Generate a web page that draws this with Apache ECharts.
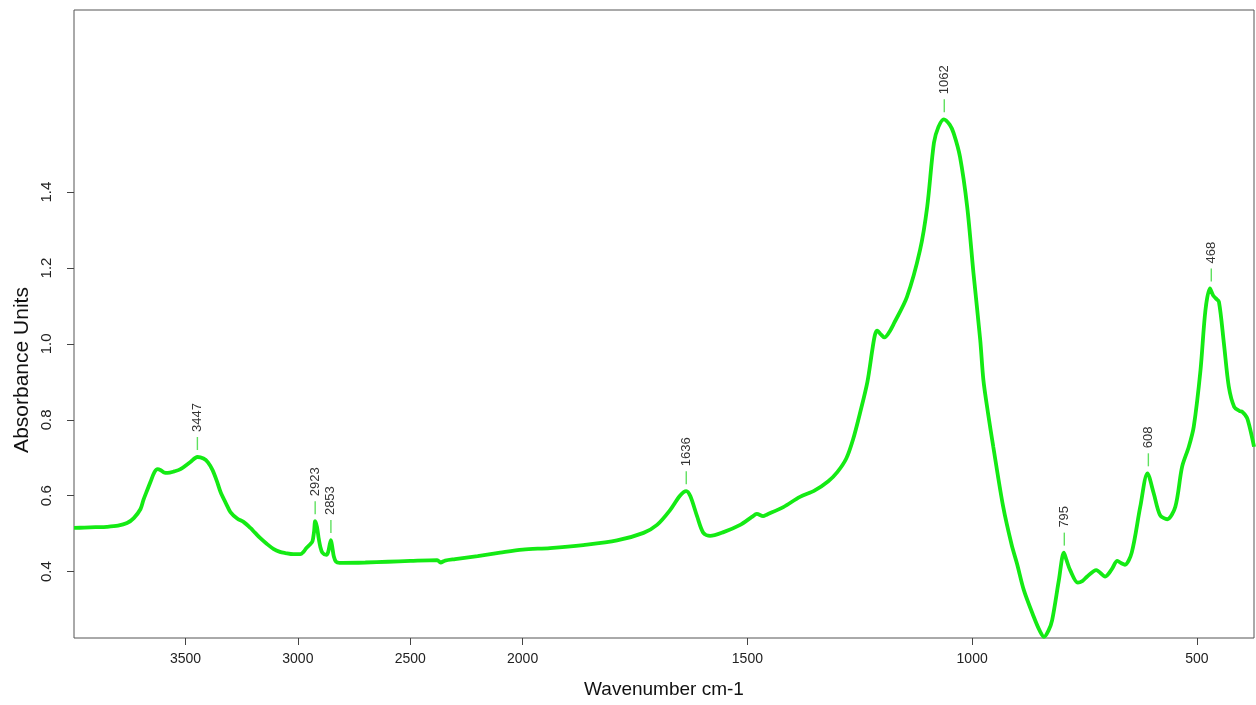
<!DOCTYPE html>
<html>
<head>
<meta charset="utf-8">
<script src="https://cdn.jsdelivr.net/npm/echarts@6/dist/echarts.min.js"></script>
<style>
html,body{margin:0;padding:0;background:#fff;}
#chart{width:1256px;height:705px;}
</style>
</head>
<body>
<div id="chart"></div>
<script>
// Wavenumber (cm-1), descending
const wavenumbers = [3996,3950,3900,3850,3800,3760,3730,3700,3687,3670,3656,3638,3624,3610,3595,3580,3550,3522,3478,3447,3420,3400,3380,3360,3344,3320,3300,3270,3242,3211,3190,3167,3140,3109,3080,3056,3020,2989,2975,2962,2945,2935,2928,2923,2915,2908,2900,2891,2873,2865,2858,2853,2847,2840,2830,2815,2800,2700,2600,2500,2380,2365,2345,2300,2200,2100,2000,1939,1865,1790,1731,1701,1672,1650,1636,1627,1612,1598,1583,1553,1516,1490,1479,1465,1457,1420,1383,1350,1320,1300,1280,1265,1249,1233,1222,1216,1211,1203,1195,1185,1174,1145,1116,1100,1085,1075,1063,1050,1041,1027,1011,997,982,975,965,953,931,912,900,885,863,850,840,830,822,807,796,790,782,765,755,744,724,704,690,677,668,660,645,626,610,596,582,566,548,533,518,507,492,481,471,464,458,451,440,429,417,405,399,388,373];
// Absorbance units
const absorbance = [0.515,0.516,0.517,0.518,0.521,0.528,0.541,0.565,0.589,0.615,0.636,0.662,0.670,0.667,0.661,0.660,0.664,0.670,0.689,0.702,0.698,0.688,0.668,0.638,0.610,0.580,0.557,0.540,0.531,0.515,0.502,0.488,0.474,0.460,0.452,0.449,0.446,0.446,0.452,0.462,0.472,0.480,0.505,0.533,0.518,0.490,0.465,0.450,0.444,0.452,0.472,0.483,0.465,0.440,0.426,0.423,0.423,0.424,0.426,0.428,0.430,0.424,0.429,0.433,0.441,0.450,0.458,0.462,0.470,0.482,0.502,0.523,0.562,0.600,0.612,0.599,0.546,0.502,0.494,0.504,0.523,0.544,0.552,0.546,0.550,0.570,0.597,0.614,0.638,0.662,0.698,0.748,0.820,0.900,0.985,1.025,1.035,1.025,1.017,1.030,1.054,1.124,1.247,1.361,1.530,1.572,1.592,1.578,1.555,1.493,1.361,1.186,1.010,0.905,0.820,0.729,0.571,0.470,0.420,0.351,0.281,0.245,0.228,0.245,0.272,0.378,0.450,0.430,0.404,0.371,0.375,0.387,0.404,0.387,0.405,0.428,0.422,0.418,0.450,0.571,0.659,0.606,0.549,0.538,0.571,0.676,0.729,0.782,0.931,1.089,1.146,1.128,1.120,1.111,1.002,0.887,0.834,0.823,0.821,0.804,0.729];
// Labelled peaks
const peakWavenumbers = [3447,2923,2853,1636,1062,795,608,468];
const peakAbsorbance = [0.702,0.533,0.483,0.612,1.592,0.450,0.659,1.146];
// Axis ticks
const xTicks = [3500,3000,2500,2000,1500,1000,500];
const yTicks = [0.4,0.6,0.8,1.0,1.2,1.4];
const xRange = [3996,373];
const yRange = [0.225,1.88];

// Scale change at 2000 cm-1 (region above 2000 compressed by factor 2)
const BREAK = 2000;
function fwd(w){ return w <= BREAK ? w : BREAK + (w - BREAK) / 2; }
function inv(t){ return t <= BREAK ? t : BREAK + (t - BREAK) * 2; }

const lineData = wavenumbers.map((w,i)=>[fwd(w), absorbance[i]]);
const peakData = peakWavenumbers.map((w,i)=>[fwd(w), peakAbsorbance[i], String(w)]);

const FONT = 'Liberation Sans, Arial, sans-serif';
const chart = echarts.init(document.getElementById('chart'), null, {renderer:'canvas'});
chart.setOption({
  animation:false,
  backgroundColor:'#ffffff',
  grid:{left:74,right:2,top:10,bottom:67,show:true,borderColor:'#555',borderWidth:1,backgroundColor:'transparent'},
  xAxis:{
    type:'value', inverse:true,
    min:fwd(xRange[1]), max:fwd(xRange[0]),
    axisLine:{show:false},
    splitLine:{show:false},
    axisTick:{show:true, length:7, lineStyle:{color:'#444'}, customValues: xTicks.map(fwd)},
    axisLabel:{show:true, margin:14, color:'#222', fontSize:14, fontFamily:FONT,
      customValues: xTicks.map(fwd),
      formatter:(v)=>String(Math.round(inv(v)))},
    name:'Wavenumber cm-1', nameLocation:'middle', nameGap:42,
    nameTextStyle:{color:'#111', fontSize:19, fontFamily:FONT}
  },
  yAxis:{
    type:'value', min:yRange[0], max:yRange[1],
    axisLine:{show:false},
    splitLine:{show:false},
    axisTick:{show:true, length:7, lineStyle:{color:'#444'}, customValues: yTicks},
    axisLabel:{show:true, rotate:90, margin:20, color:'#222', fontSize:15, fontFamily:FONT,
      customValues: yTicks, formatter:(v)=>v.toFixed(1)}
  },
  graphic:[{
    type:'text', x:22, y:370, rotation:Math.PI/2,
    style:{text:'Absorbance Units', fill:'#111', font:'21px '+FONT, textAlign:'center', textVerticalAlign:'middle'}
  }],
  series:[{
    type:'line', data:lineData, showSymbol:false, smooth:0.3,
    lineStyle:{color:'#14ea14', width:3.8}, z:3
  },{
    type:'custom', data:peakData, z:4,
    renderItem:function(params, api){
      const p = api.coord([api.value(0), api.value(1)]);
      const label = peakWavenumbers[params.dataIndex];
      return {type:'group', children:[
        {type:'line', shape:{x1:p[0], y1:p[1]-7, x2:p[0], y2:p[1]-20}, style:{stroke:'#5fe05f', lineWidth:1.4}},
        {type:'text', x:p[0], y:p[1]-25, rotation:Math.PI/2,
          style:{text:String(label), fill:'#333', font:'13px '+FONT, textAlign:'left', textVerticalAlign:'middle'}}
      ]};
    }
  }]
});
</script>
</body>
</html>
